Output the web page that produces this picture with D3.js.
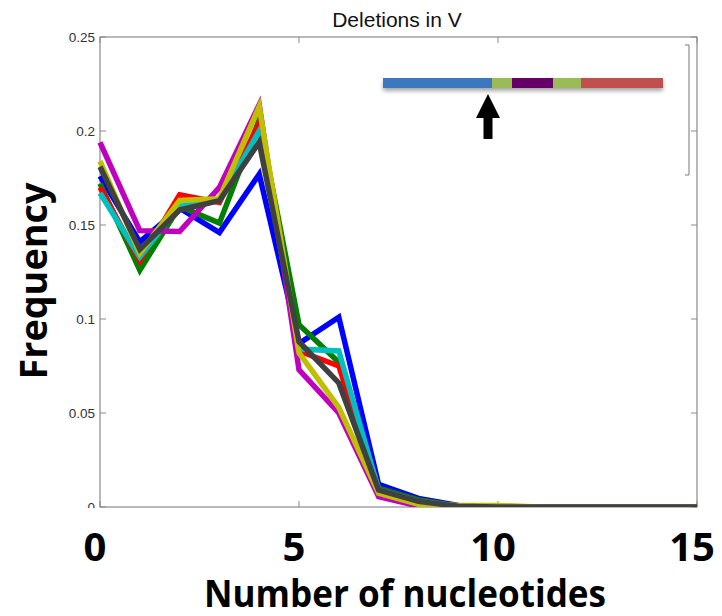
<!DOCTYPE html>
<html>
<head>
<meta charset="utf-8">
<script src="https://cdn.jsdelivr.net/npm/d3@7"></script>
<style>
  html, body { margin: 0; padding: 0; background: #fff; }
  svg { display: block; }
</style>
</head>
<body>
<svg id="chart" width="722" height="616"></svg>
<script>
// ------------------------------------
// Data
// ------------------------------------
const nucleotides = d3.range(0, 16);   // 0..15

const seriesNames = ["blue", "green", "red", "cyan", "magenta", "yellow", "gray"];
const seriesColors = ["#0000ff", "#008000", "#ff0000", "#00bfbf", "#bf00bf", "#bfbf00", "#404040"];

const blueValues    = [0.176, 0.141, 0.159, 0.146, 0.177, 0.087, 0.101, 0.012, 0.0046, 0.0008, 0, 0, 0, 0, 0, 0];
const greenValues   = [0.172, 0.126, 0.160, 0.151, 0.206, 0.097, 0.077, 0.010, 0.0038, 0.0006, 0, 0, 0, 0, 0, 0];
const redValues     = [0.170, 0.131, 0.166, 0.162, 0.204, 0.083, 0.075, 0.009, 0.003, 0.0005, 0, 0, 0, 0, 0, 0];
const cyanValues    = [0.167, 0.133, 0.160, 0.163, 0.200, 0.084, 0.083, 0.009, 0.003, 0.0005, 0, 0, 0, 0, 0, 0];
const magentaValues = [0.194, 0.147, 0.1465, 0.170, 0.214, 0.073, 0.050, 0.0055, 0.0005, 0, 0, 0, 0, 0, 0, 0];
const yellowValues  = [0.184, 0.135, 0.163, 0.164, 0.213, 0.082, 0.053, 0.0074, 0.0015, 0.0008, 0.0008, 0, 0, 0, 0, 0];
const grayValues    = [0.181, 0.137, 0.158, 0.163, 0.194, 0.088, 0.066, 0.009, 0.003, 0.0004, 0, 0, 0, 0, 0, 0];

const allValues = [blueValues, greenValues, redValues, cyanValues, magentaValues, yellowValues, grayValues];

const yTicks = [0, 0.05, 0.1, 0.15, 0.2, 0.25];
const xTicks = [0, 5, 10, 15];

// gene diagram (segment lengths in relative units)
const geneSegments = [109, 20, 41, 28, 82];
const geneColors = ["#3d78bf", "#9bbb59", "#660066", "#9bbb59", "#c0504d"];
const arrowAt = 105;   // position of arrow along the gene, same units

// ------------------------------------
// Layout
// ------------------------------------
const width = 722, height = 616;
const margin = { top: 37, right: 25, bottom: 109, left: 100 };
const innerWidth = width - margin.left - margin.right;
const innerHeight = height - margin.top - margin.bottom;

const svg = d3.select("#chart");

const x = d3.scaleLinear().domain([0, 15]).range([0, innerWidth]);
const y = d3.scaleLinear().domain([0, 0.25]).range([innerHeight, 0]);

const g = svg.append("g")
  .attr("transform", `translate(${margin.left},${margin.top})`);

// clip for the lines
svg.append("defs").append("clipPath").attr("id", "plotClip")
  .append("rect").attr("x", -3).attr("y", -3)
  .attr("width", innerWidth + 3).attr("height", innerHeight + 3);

// ------------------------------------
// Box + ticks (MATLAB style, ticks inward on all sides)
// ------------------------------------
const axisColor = "#8a8a8a";

g.append("rect")
  .attr("width", innerWidth)
  .attr("height", innerHeight)
  .attr("fill", "none")
  .attr("stroke", axisColor)
  .attr("stroke-width", 1.2);

const tickLen = 6;
g.selectAll(".ytickL").data(yTicks).join("line")
  .attr("x1", 0).attr("x2", tickLen)
  .attr("y1", d => y(d)).attr("y2", d => y(d))
  .attr("stroke", axisColor);
g.selectAll(".ytickR").data(yTicks).join("line")
  .attr("x1", innerWidth - tickLen).attr("x2", innerWidth)
  .attr("y1", d => y(d)).attr("y2", d => y(d))
  .attr("stroke", axisColor);
g.selectAll(".xtickB").data(xTicks).join("line")
  .attr("x1", d => x(d)).attr("x2", d => x(d))
  .attr("y1", innerHeight).attr("y2", innerHeight - tickLen)
  .attr("stroke", axisColor);
g.selectAll(".xtickT").data(xTicks).join("line")
  .attr("x1", d => x(d)).attr("x2", d => x(d))
  .attr("y1", 0).attr("y2", tickLen)
  .attr("stroke", axisColor);

// y tick labels
const yLab = g.append("g");
yLab.selectAll("text").data(yTicks).join("text")
  .attr("x", -5)
  .attr("y", d => y(d))
  .attr("dy", "0.35em")
  .attr("text-anchor", "end")
  .style("font-family", "'Liberation Sans', Arial, sans-serif")
  .style("font-size", "13.5px")
  .style("fill", "#333")
  .text(d => d);

// cover the lower half of the "0" label like in the original
svg.append("rect")
  .attr("x", 0).attr("y", margin.top + innerHeight + 1)
  .attr("width", margin.left - 1).attr("height", 12)
  .attr("fill", "#fff");

// ------------------------------------
// Lines
// ------------------------------------
const line = d3.line()
  .x((d, i) => x(nucleotides[i]))
  .y(d => y(d));

g.append("g")
  .attr("clip-path", "url(#plotClip)")
  .selectAll("path")
  .data(allValues)
  .join("path")
  .attr("fill", "none")
  .attr("stroke", (d, i) => seriesColors[i])
  .attr("stroke-width", 5.5)
  .attr("stroke-linejoin", "miter")
  .attr("d", line);

// ------------------------------------
// Title
// ------------------------------------
svg.append("text")
  .attr("x", 397)
  .attr("y", 27)
  .attr("text-anchor", "middle")
  .style("font-family", "'Liberation Sans', Arial, sans-serif")
  .style("font-size", "21px")
  .style("fill", "#111")
  .text("Deletions in V");

// ------------------------------------
// Big slide labels
// ------------------------------------
const bigFont = "'Open Sans', 'Noto Sans', sans-serif";
svg.append("g").selectAll("text").data(xTicks).join("text")
  .attr("x", d => margin.left + x(d) - 5)
  .attr("y", 561)
  .attr("text-anchor", "middle")
  .style("font-family", bigFont)
  .style("font-weight", "bold")
  .style("font-size", "40px")
  .style("fill", "#000")
  .text(d => d);

svg.append("text")
  .attr("x", 405)
  .attr("y", 607)
  .attr("text-anchor", "middle")
  .attr("textLength", 402)
  .attr("lengthAdjust", "spacingAndGlyphs")
  .style("font-family", bigFont)
  .style("font-weight", "bold")
  .style("font-size", "37px")
  .style("fill", "#000")
  .text("Number of nucleotides");

svg.append("text")
  .attr("transform", "translate(47,281) rotate(-90)")
  .attr("text-anchor", "middle")
  .attr("textLength", 197)
  .attr("lengthAdjust", "spacingAndGlyphs")
  .style("font-family", bigFont)
  .style("font-weight", "bold")
  .style("font-size", "37px")
  .style("fill", "#000")
  .text("Frequency");

// ------------------------------------
// Gene inset (bar + arrow + bracket)
// ------------------------------------
const defs = svg.select("defs");
defs.append("filter").attr("id", "shadow")
  .attr("x", "-5%").attr("y", "-50%").attr("width", "110%").attr("height", "250%")
  .append("feDropShadow")
  .attr("dx", 0).attr("dy", 3).attr("stdDeviation", 2)
  .attr("flood-color", "#000").attr("flood-opacity", 0.35);

const geneTotal = d3.sum(geneSegments);
const gx = d3.scaleLinear().domain([0, geneTotal]).range([383, 663]);
const starts = d3.cumsum([0, ...geneSegments]);

const gene = svg.append("g");
gene.append("rect")
  .attr("x", gx(0)).attr("y", 78)
  .attr("width", gx(geneTotal) - gx(0)).attr("height", 10)
  .attr("rx", 2)
  .attr("fill", "#888")
  .attr("filter", "url(#shadow)");
gene.selectAll(".seg").data(geneSegments).join("rect")
  .attr("x", (d, i) => gx(starts[i]))
  .attr("y", 78)
  .attr("width", d => gx(d) - gx(0))
  .attr("height", 10)
  .attr("fill", (d, i) => geneColors[i]);

const ax = gx(arrowAt);
gene.append("path")
  .attr("d", `M${ax},94 L${ax + 12},118 L${ax + 4.5},118 L${ax + 4.5},139 L${ax - 4.5},139 L${ax - 4.5},118 L${ax - 12},118 Z`)
  .attr("fill", "#000");

// bracket line on the right
svg.append("path")
  .attr("d", "M685,45 L689,45 L689,175 L685,175")
  .attr("fill", "none")
  .attr("stroke", "#777")
  .attr("stroke-width", 1);
</script>
</body>
</html>
